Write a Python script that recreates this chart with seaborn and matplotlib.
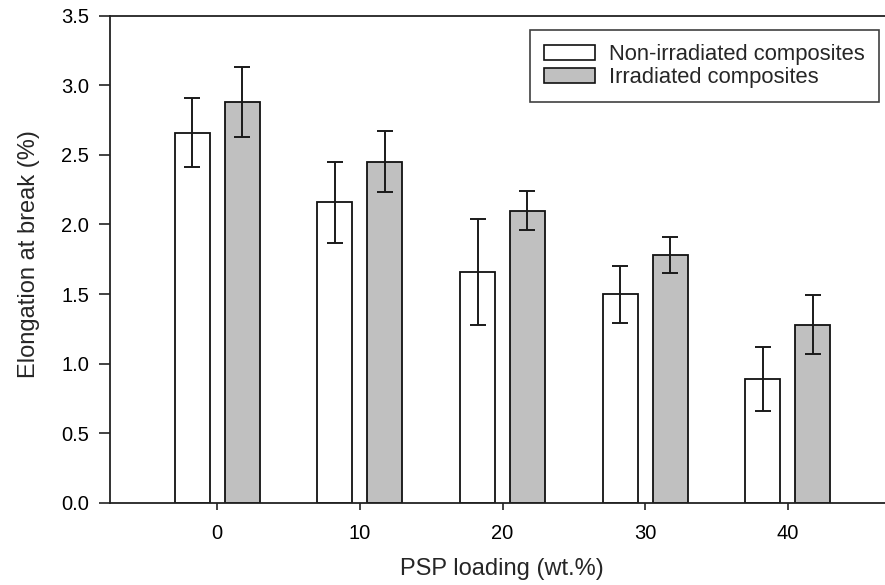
import matplotlib
matplotlib.use("Agg")
import matplotlib.pyplot as plt
import seaborn as sns
import pandas as pd
from matplotlib.patches import Patch

# ---- data ----
loadings = ["0", "10", "20", "30", "40"]
non_irr = [2.66, 2.16, 1.66, 1.50, 0.89]
non_irr_err = [0.25, 0.29, 0.38, 0.205, 0.23]
irr = [2.88, 2.45, 2.10, 1.78, 1.28]
irr_err = [0.25, 0.22, 0.14, 0.13, 0.21]
series = ["Non-irradiated composites", "Irradiated composites"]

df = pd.DataFrame({
    "loading": loadings * 2,
    "value": non_irr + irr,
    "series": [series[0]] * len(loadings) + [series[1]] * len(loadings),
})

sns.set_style("ticks")
plt.rcParams["font.family"] = ["Liberation Sans", "DejaVu Sans"]

fig = plt.figure(figsize=(8.85, 5.85), dpi=100)
ax = fig.add_axes([110 / 885, 1 - 503 / 585, 785 / 885, (503 - 15.5) / 585])

colors = {series[0]: "#FFFFFF", series[1]: "#C0C0C0"}
sns.barplot(data=df, x="loading", y="value", hue="series", hue_order=series,
            order=loadings, palette=colors, edgecolor="#111111", linewidth=1.3,
            width=0.70, gap=0.30, errorbar=None, ax=ax, legend=False)

errs = [non_irr_err, irr_err]
for cont, err in zip(ax.containers, errs):
    xs = [b.get_x() + b.get_width() / 2 for b in cont]
    hs = [b.get_height() for b in cont]
    ax.errorbar(xs, hs, yerr=err, fmt="none", ecolor="#1a1a1a",
                elinewidth=1.4, capsize=6, capthick=1.4, zorder=5)

ax.set_xlim(-0.75, 4.75)
ax.set_ylim(0, 3.5)
ax.set_yticks([0, 0.5, 1.0, 1.5, 2.0, 2.5, 3.0, 3.5])
ax.set_yticklabels(["0.0", "0.5", "1.0", "1.5", "2.0", "2.5", "3.0", "3.5"])

for s in ["left", "bottom", "top"]:
    ax.spines[s].set_visible(True)
    ax.spines[s].set_color("#222222")
    ax.spines[s].set_linewidth(1.3)
ax.spines["right"].set_visible(False)

ax.tick_params(axis="y", direction="out", length=8, width=1.2, labelsize=14.5,
               colors="#222222", labelcolor="black", pad=7)
ax.tick_params(axis="x", direction="out", length=5, width=1.2, labelsize=14.5,
               colors="#222222", labelcolor="black", pad=10)

ax.set_xlabel("PSP loading (wt.%)", fontsize=17)
ax.set_ylabel("Elongation at break (%)", fontsize=17)
ax.xaxis.set_label_coords(502 / 885, 1 - 558 / 585, transform=fig.transFigure)
ax.yaxis.set_label_coords(40 / 885, 1 - 254 / 585, transform=fig.transFigure)

handles = [Patch(facecolor=colors[s], edgecolor="#111111", linewidth=1.2) for s in series]
leg = ax.legend(handles, series, loc="upper right",
                bbox_to_anchor=(879 / 885, 1 - 30 / 585), bbox_transform=fig.transFigure,
                borderaxespad=0, fontsize=15.8, frameon=True, fancybox=False,
                handlelength=2.32, handleheight=0.64, handletextpad=0.64,
                labelspacing=0.08, borderpad=0.65)
leg.get_frame().set_edgecolor("#111111")
leg.get_frame().set_linewidth(1.2)

fig.savefig("out.png", dpi=100)
